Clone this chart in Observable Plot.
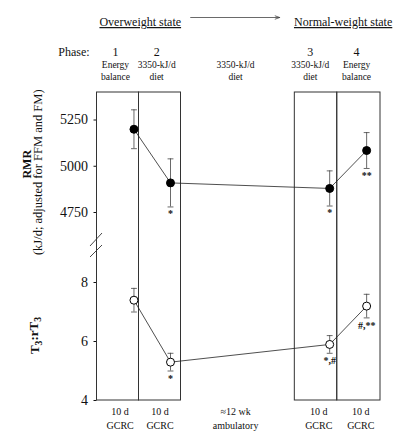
<!DOCTYPE html>
<html>
<head>
<meta charset="utf-8">
<script src="https://cdn.jsdelivr.net/npm/d3@7"></script>
<script src="https://cdn.jsdelivr.net/npm/@observablehq/plot@0.6"></script>
<style>
  body { margin: 0; background: white; }
  #chart svg { display: block; }
</style>
</head>
<body>
<div id="chart"></div>
<script>
// phase boxes (x in "box widths", the ambulatory gap is compressed like the original)
const boxStart = [0, 1, 4.71, 5.72];
const boxEnd = [1, 2, 5.72, 6.75];

// measured values for the 4 phases
const pointX = [0.88, 1.75, 5.54, 6.42];
const rmr = [5200, 4910, 4880, 5085];
const rmrSE = [105, 130, 95, 97];
const rmrNotes = ["", "*", "*", "**"];
const t3 = [7.4, 5.3, 5.9, 7.2];
const t3SE = [0.4, 0.3, 0.3, 0.4];
const t3Notes = ["", "*", "*,#", "#,**"];

const rmrTicks = [4750, 5000, 5250];
const t3Ticks = [4, 6, 8];

// header / footer labels
const stateLabels = ["Overweight state", "Normal-weight state"];
const stateX = [1.03, 5.86];
const arrowFrom = [2.23];
const arrowTo = [4.35];
const headerX = [0.44, 1.42, 3.3, 5.08, 6.18];
const phaseNums = ["1", "2", "", "3", "4"];
const phaseDiet = ["Energy\nbalance", "3350-kJ/d\ndiet", "3350-kJ/d\ndiet", "3350-kJ/d\ndiet", "Energy\nbalance"];
const stayX = [0.55, 1.5, 3.3, 5.28, 6.28];
const stayLabels = ["10 d\nGCRC", "10 d\nGCRC", "≈12 wk\nambulatory", "10 d\nGCRC", "10 d\nGCRC"];

const boxes = boxStart.map((x1, i) => ({x1, x2: boxEnd[i]}));
const rmrRows = pointX.map((x, i) => ({x, y: rmr[i], lo: rmr[i] - rmrSE[i], hi: rmr[i] + rmrSE[i], note: rmrNotes[i]}));
const t3Rows = pointX.map((x, i) => ({x, y: t3[i], lo: t3[i] - t3SE[i], hi: t3[i] + t3SE[i], note: t3Notes[i]}));

const capW = 0.07;
const ink = "#111";
const baseStyle = {fontFamily: "'Liberation Serif', 'Times New Roman', serif", fontSize: "14px", color: ink, background: "white"};

//error bars + line + dots, shared by both panels
const seriesMarks = (rows, dotFill) => [
  Plot.ruleX(rows, {x: "x", y1: "lo", y2: "hi", stroke: "#444", strokeWidth: 0.8}),
  Plot.link(rows, {x1: (d) => d.x - capW, x2: (d) => d.x + capW, y1: "hi", y2: "hi", stroke: "#444", strokeWidth: 0.8}),
  Plot.link(rows, {x1: (d) => d.x - capW, x2: (d) => d.x + capW, y1: "lo", y2: "lo", stroke: "#444", strokeWidth: 0.8}),
  Plot.line(rows, {x: "x", y: "y", stroke: "#222", strokeWidth: 0.8}),
  Plot.dot(rows, {x: "x", y: "y", r: 4, fill: dotFill, stroke: "#000", strokeWidth: 1})
];

const topPlot = Plot.plot({
  width: 413,
  height: 262,
  marginTop: 92,
  marginBottom: 0,
  marginLeft: 96.5,
  marginRight: 33,
  style: baseStyle,
  x: {domain: [0, 6.75], axis: null},
  y: {domain: [4750, 5250], range: [212, 119.5], ticks: rmrTicks, tickSize: 3, tickPadding: 6, tickFormat: (d) => String(d), label: null},
  marks: [
    Plot.rect(boxes, {x1: "x1", x2: "x2", fill: "none", stroke: "#333", strokeWidth: 1, insetBottom: -4}),
    ...seriesMarks(rmrRows, "#000"),
    Plot.text(rmrRows, {x: "x", y: "lo", text: "note", lineAnchor: "top", dy: 3, fontSize: 10, fontWeight: "bold", fill: ink}),
    // header
    Plot.text(stateLabels, {x: (d, i) => stateX[i], text: (d) => d, frameAnchor: "top", dy: -75, fontSize: 12, fill: ink}),
    Plot.arrow(arrowFrom, {x1: (d) => d, x2: (d, i) => arrowTo[i], y1: () => 5250, y2: () => 5250, dy: -102.5, stroke: "#444", strokeWidth: 0.8, headLength: 9, headAngle: 40}),
    Plot.text(["Phase:"], {x: () => -0.92, text: (d) => d, frameAnchor: "top", dy: -45, textAnchor: "start", fontSize: 12, fill: ink}),
    Plot.text(phaseNums, {x: (d, i) => headerX[i], text: (d) => d, frameAnchor: "top", dy: -45, fontSize: 12, fill: ink}),
    Plot.text(phaseDiet, {x: (d, i) => headerX[i], text: (d) => d, frameAnchor: "top", dy: -22, lineAnchor: "middle", lineHeight: 1.25, fontSize: 9.5, fill: ink}),
    // y titles
    Plot.text(["RMR"], {x: () => 0, y: () => 5000, text: (d) => d, rotate: -90, dx: -69.5, dy: -2, fontSize: 12, fontWeight: "bold", fill: ink}),
    Plot.text(["(kJ/d; adjusted for FFM and FM)"], {x: () => 0, y: () => 5000, text: (d) => d, rotate: -90, dx: -59.5, dy: 6, fontSize: 12.5, fill: ink}),
    // axis break
    (index, scales, values, dims) => {
      const g = d3.create("svg:g").attr("stroke", "#333").attr("stroke-width", 0.9);
      const ml = dims.marginLeft, h = dims.height;
      g.append("line").attr("x1", ml - 6.5).attr("y1", h - 16).attr("x2", ml + 5.5).attr("y2", h - 29);
      g.append("line").attr("x1", ml - 6.5).attr("y1", h - 5).attr("x2", ml + 5.5).attr("y2", h - 17);
      return g.node();
    }
  ]
});

const bottomPlot = Plot.plot({
  width: 413,
  height: 178,
  marginTop: 0,
  marginBottom: 40,
  marginLeft: 96.5,
  marginRight: 33,
  style: baseStyle,
  x: {domain: [0, 6.75], axis: null},
  y: {domain: [4, 8], range: [138, 20], ticks: t3Ticks, tickSize: 3, tickPadding: 6, tickFormat: (d) => String(d), label: null},
  marks: [
    Plot.rect(boxes, {x1: "x1", x2: "x2", fill: "none", stroke: "#333", strokeWidth: 1, insetTop: -4}),
    ...seriesMarks(t3Rows, "white"),
    Plot.text(t3Rows, {x: "x", y: "lo", text: "note", lineAnchor: "top", dy: 4, fontSize: 10, fontWeight: "bold", fill: ink}),
    Plot.text(stayLabels, {x: (d, i) => stayX[i], text: (d) => d, frameAnchor: "bottom", dy: 17, lineAnchor: "middle", lineHeight: 1.4, fontSize: 10, fill: ink}),
    Plot.text(["T3:rT3"], {x: () => 0, y: () => 6, text: (d) => d, rotate: -90, dx: -62.5, dy: -6, fontSize: 13, fontWeight: "bold", fill: ink})
  ]
});

// underline the two state headings
d3.select(topPlot).selectAll("text")
  .filter(function () { return stateLabels.includes(this.textContent); })
  .style("text-decoration", "underline");

// subscripts for T3:rT3
d3.select(bottomPlot).selectAll("text")
  .filter(function () { return this.textContent === "T3:rT3"; })
  .each(function () {
    const t = d3.select(this).text(null);
    t.append("tspan").text("T");
    t.append("tspan").attr("dy", "0.3em").attr("font-size", "0.75em").text("3");
    t.append("tspan").attr("dy", "-0.3em").text(":rT");
    t.append("tspan").attr("dy", "0.3em").attr("font-size", "0.75em").text("3");
  });

const chart = document.getElementById("chart");
chart.appendChild(topPlot);
chart.appendChild(bottomPlot);
</script>
</body>
</html>
